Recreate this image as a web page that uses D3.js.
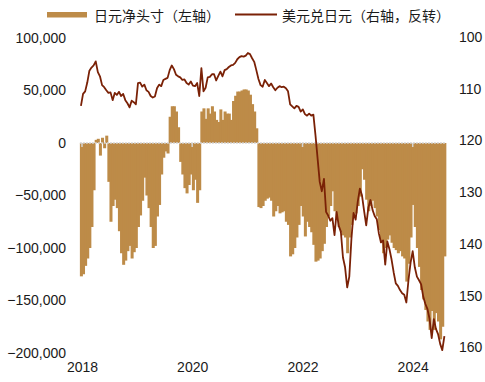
<!doctype html>
<html lang="zh">
<head>
<meta charset="utf-8">
<title>日元净头寸与美元兑日元</title>
<script src="https://cdn.jsdelivr.net/npm/d3@7"></script>
<style>
  body { margin: 0; background: #fff; }
  svg { display: block; font-family: "Liberation Sans", Arial, sans-serif; }
  .legend text { font-family: "Noto Sans CJK SC", sans-serif; font-size: 14px; fill: #1a1a1a; }
  .tick text { font-size: 14px; fill: #1a1a1a; }
</style>
</head>
<body>
<svg id="chart" width="485" height="382"></svg>
<script>
// biweekly observations starting 2017-12-25
const startDate = "2017-12-25";
const stepDays = 14;

// yen net position, thousands of contracts (left axis)
const netPosition = [
  -127, -125, -117, -110, -100, -80, -45, 3, 4, -12,
  5, -5, 7, -37, -75, -60, -54, -62, -84, -105,
  -116, -112, -103, -98, -110, -104, -100, -80, -69, -55,
  -33, -50, -62, -80, -100, -98, -70, -59, -30, -14,
  -8, -10, 25, 35, 35, 30, 15, -18, -30, -43,
  -48, -40, -30, -45, -35, -57, -45, 30, 33, 23,
  33, 28, 35, 30, 22, 20, 32, 22, 30, 28,
  28, 22, 40, 45, 49, 49, 50, 51, 51, 50,
  46, 37, 30, 14, -61, -62, -60, -55, -53, -52,
  -55, -70, -65, -60, -67, -66, -65, -75, -78, -108,
  -106, -100, -90, -78, -60, -70, -89, -75, -80, -85,
  -97, -113, -112, -110, -103, -96, -80, -70, -60, -46,
  -65, -72, -80, -85, -88, -90, -105, -90, -78, -70,
  -67, -60, -51, -25, -35, -54, -65, -60, -55, -62,
  -70, -83, -95, -105, -100, -92, -88, -95, -100, -102,
  -105, -103, -108, -110, -132, -115, -90, -59, -80, -100,
  -118, -140, -149, -159, -170, -178, -160, -178, -162, -170,
  -187, -175, -108
];

// USD/JPY (right axis, inverted)
const usdJpy = [
  113.3, 111.0, 110.5, 108.8, 106.5, 105.9, 105.5, 104.7, 106.8, 107.6,
  109.3, 109.7, 110.3, 110.8, 110.7, 112.2, 110.8, 111.2, 110.6, 111.4,
  111.0, 112.2, 112.8, 113.6, 112.3, 112.6, 113.0, 108.9, 108.8, 109.6,
  109.2, 110.3, 110.6, 111.4, 111.7, 111.5, 109.9, 109.2, 109.5, 108.3,
  108.1, 107.9, 106.4, 105.5, 106.2, 107.3, 107.6, 107.8, 108.3, 108.2,
  108.9, 109.2, 108.6, 109.4, 109.5, 108.9, 111.4, 106.0, 110.5, 109.8,
  107.8, 107.7, 107.2, 107.2, 108.4, 107.5, 106.7, 107.6, 106.4, 106.2,
  105.8, 105.5, 105.4, 105.0, 104.3, 103.9, 103.7, 103.8, 103.6, 103.1,
  103.3, 104.1, 104.8, 106.4, 108.1, 109.3, 109.6, 108.3, 108.9, 109.5,
  109.0, 109.7, 110.3, 109.8, 109.5, 109.7, 109.6, 109.9, 110.5, 113.0,
  113.4, 113.8, 113.3, 113.5, 114.4, 114.0, 114.9, 115.2, 114.8, 115.2,
  115.0, 119.0, 123.5, 128.0, 129.8, 127.4, 133.8, 134.5, 135.5, 135.0,
  138.3, 133.8, 136.5, 137.6, 142.6, 144.5, 148.4, 146.3, 139.0, 134.0,
  135.3, 131.8, 129.3, 130.6, 133.6, 136.4, 133.0, 131.5, 133.4, 134.6,
  135.2, 138.0, 139.7, 139.3, 144.0, 139.5, 141.0, 143.0, 145.5, 147.6,
  148.1, 148.9, 149.5, 149.8, 151.3, 147.0, 143.6, 141.4, 144.5, 146.3,
  147.0, 147.8, 150.2, 151.6, 152.6, 154.5, 158.2, 154.5, 156.4, 157.4,
  159.3, 160.5, 157.8
];

const leftTicks = [100000, 50000, 0, -50000, -100000, -150000, -200000];
const rightTicks = [100, 110, 120, 130, 140, 150, 160];
const yearTicks = [2018, 2020, 2022, 2024];

const legendLabels = ["日元净头寸（左轴）", "美元兑日元（右轴，反转）"];
const barColor = "#bd8b48";
const lineColor = "#7a2106";

const t0 = d3.timeParse("%Y-%m-%d")(startDate);
const dates = netPosition.map((_, i) => d3.timeDay.offset(t0, i * stepDays));

const svg = d3.select("#chart");

const x = d3.scaleTime()
  .domain([new Date(2018, 0, 1), new Date(2024, 0, 1)])
  .range([82, 412.7]);
const yLeft = d3.scaleLinear().domain([100000, -200000]).range([38, 353]);
const yRight = d3.scaleLinear().domain([100, 160]).range([37, 347.5]);

const barW = x(d3.timeDay.offset(t0, stepDays)) - x(t0);

// bars, slightly overlapped so no hairline gaps show
svg.append("g")
  .selectAll("rect")
  .data(netPosition)
  .join("rect")
  .attr("x", (d, i) => x(dates[i]) - barW / 2)
  .attr("width", barW + 0.9)
  .attr("y", d => yLeft(Math.max(0, d * 1000)))
  .attr("height", d => Math.abs(yLeft(d * 1000) - yLeft(0)))
  .attr("fill", barColor);

// zero axis with year ticks
const xAxis = svg.append("g")
  .attr("transform", `translate(0,${yLeft(0)})`);
xAxis.append("line")
  .attr("x1", x(dates[0]) - barW / 2).attr("x2", x(dates[dates.length - 1]) + barW / 2)
  .attr("stroke", "#d4d4d4").attr("stroke-width", 1.5)
  .attr("stroke-dasharray", "2,1");
xAxis.selectAll("line.tk")
  .data(yearTicks)
  .join("line")
  .attr("class", "tk")
  .attr("x1", d => x(new Date(d, 0, 1))).attr("x2", d => x(new Date(d, 0, 1)))
  .attr("y1", 0).attr("y2", 4)
  .attr("stroke", "#d4d4d4").attr("stroke-width", 1.5);

// exchange rate line
svg.append("path")
  .datum(usdJpy)
  .attr("fill", "none")
  .attr("stroke", lineColor)
  .attr("stroke-width", 1.8)
  .attr("stroke-linejoin", "round")
  .attr("d", d3.line().x((d, i) => x(dates[i])).y(d => yRight(d)));

// left axis
const gl = svg.append("g").attr("transform", "translate(66,0)")
  .call(d3.axisLeft(yLeft).tickValues(leftTicks).tickSize(0).tickPadding(0)
    .tickFormat(d3.format(",")));
gl.select(".domain").remove();

// right axis
const gr = svg.append("g").attr("transform", "translate(459,0)")
  .call(d3.axisRight(yRight).tickValues(rightTicks).tickSize(0).tickPadding(0));
gr.select(".domain").remove();

// year labels
const gx = svg.append("g").attr("transform", "translate(0,362)")
  .call(d3.axisBottom(x).tickValues(yearTicks.map(y => new Date(y, 0, 1)))
    .tickSize(0).tickPadding(0).tickFormat(d3.timeFormat("%Y")));
gx.select(".domain").remove();

// legend
const lg = svg.append("g").attr("class", "legend");
lg.append("rect").attr("x", 47).attr("y", 12).attr("width", 40).attr("height", 5.5).attr("fill", barColor);
lg.append("text").attr("x", 94).attr("y", 14.5).attr("dominant-baseline", "central").text(legendLabels[0]);
lg.append("line").attr("x1", 235).attr("x2", 277).attr("y1", 14.5).attr("y2", 14.5)
  .attr("stroke", lineColor).attr("stroke-width", 2);
lg.append("text").attr("x", 282).attr("y", 14.5).attr("dominant-baseline", "central").text(legendLabels[1]);
</script>
</body>
</html>
